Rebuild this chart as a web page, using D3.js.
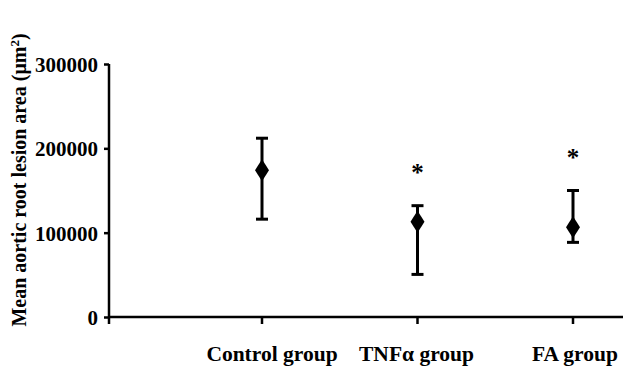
<!DOCTYPE html>
<html>
<head>
<meta charset="utf-8">
<script src="https://d3js.org/d3.v7.min.js"></script>
<style>
  body { margin: 0; background: #fff; }
  text { font-family: "Liberation Serif", "Times New Roman", serif; font-weight: bold; fill: #000; }
</style>
</head>
<body>
<div id="chart"></div>
<script>
// data
const groups = ["Control group", "TNFα group", "FA group"];
const means = [174000, 113000, 106500];
const upper = [212000, 132000, 150000];
const lower = [116000, 50500, 88500];
const significant = [false, true, true];
const yTicks = [0, 100000, 200000, 300000];

const W = 623, H = 368;
const margin = { top: 64, right: 0, bottom: 51, left: 109 };

const svg = d3.select("#chart").append("svg")
    .attr("width", W)
    .attr("height", H);

const y = d3.scaleLinear()
    .domain([0, 300000])
    .range([H - margin.bottom, margin.top]);

const x = d3.scalePoint()
    .domain(groups)
    .range([262, 573]);

// y axis
const yAxis = svg.append("g")
    .attr("transform", "translate(" + margin.left + ",0)")
    .call(d3.axisLeft(y).tickValues(yTicks).tickSize(5).tickPadding(6).tickFormat(d3.format("d")));
yAxis.select(".domain").attr("stroke", "#000").attr("stroke-width", 2.5)
    .attr("d", "M0," + y(300000) + "V" + y(0));
yAxis.selectAll(".tick line").attr("stroke-width", 2.5);
yAxis.selectAll(".tick text").style("font-size", "21px").attr("dy", "0.36em");

// x axis line
const y0 = y(0);
svg.append("line")
    .attr("x1", margin.left).attr("x2", W)
    .attr("y1", y0).attr("y2", y0)
    .attr("stroke", "#000").attr("stroke-width", 2.5);

// x ticks (incl. the one at the origin)
svg.selectAll(".xtick")
    .data([margin.left].concat(groups.map(g => x(g))))
    .join("line")
    .attr("class", "xtick")
    .attr("x1", d => d).attr("x2", d => d)
    .attr("y1", y0).attr("y2", y0 + 7)
    .attr("stroke", "#000").attr("stroke-width", 2.5);

// x labels
svg.selectAll(".xlabel")
    .data(groups)
    .join("text")
    .attr("class", "xlabel")
    .attr("x", (d, i) => x(d) + [10, -1, 2][i])
    .attr("y", 361)
    .attr("text-anchor", "middle")
    .style("font-size", "21.5px")
    .text(d => d);

// error bars
const capW = 12;
const bars = svg.selectAll(".err")
    .data(groups)
    .join("g")
    .attr("class", "err");
bars.append("line")
    .attr("x1", d => x(d)).attr("x2", d => x(d))
    .attr("y1", (d, i) => y(upper[i])).attr("y2", (d, i) => y(lower[i]))
    .attr("stroke", "#000").attr("stroke-width", 3);
bars.append("line")
    .attr("x1", d => x(d) - capW / 2).attr("x2", d => x(d) + capW / 2)
    .attr("y1", (d, i) => y(upper[i])).attr("y2", (d, i) => y(upper[i]))
    .attr("stroke", "#000").attr("stroke-width", 3);
bars.append("line")
    .attr("x1", d => x(d) - capW / 2).attr("x2", d => x(d) + capW / 2)
    .attr("y1", (d, i) => y(lower[i])).attr("y2", (d, i) => y(lower[i]))
    .attr("stroke", "#000").attr("stroke-width", 3);

// diamond markers
bars.append("path")
    .attr("d", "M0,-11L7,0L0,11L-7,0Z")
    .attr("transform", (d, i) => "translate(" + x(d) + "," + y(means[i]) + ")")
    .attr("fill", "#000");

// significance stars
svg.selectAll(".star")
    .data(groups.filter((d, i) => significant[i]))
    .join("text")
    .attr("class", "star")
    .attr("x", d => x(d))
    .attr("y", d => y(upper[groups.indexOf(d)]) - 25)
    .attr("text-anchor", "middle")
    .style("font-size", "25px")
    .text("*");

// y label
svg.append("text")
    .attr("transform", "translate(26," + 180 + ") rotate(-90)")
    .attr("text-anchor", "middle")
    .style("font-size", "20px")
    .html("Mean aortic root lesion area (μm<tspan dy='-7' font-size='13px'>2</tspan><tspan dy='7'>)</tspan>");
</script>
</body>
</html>
